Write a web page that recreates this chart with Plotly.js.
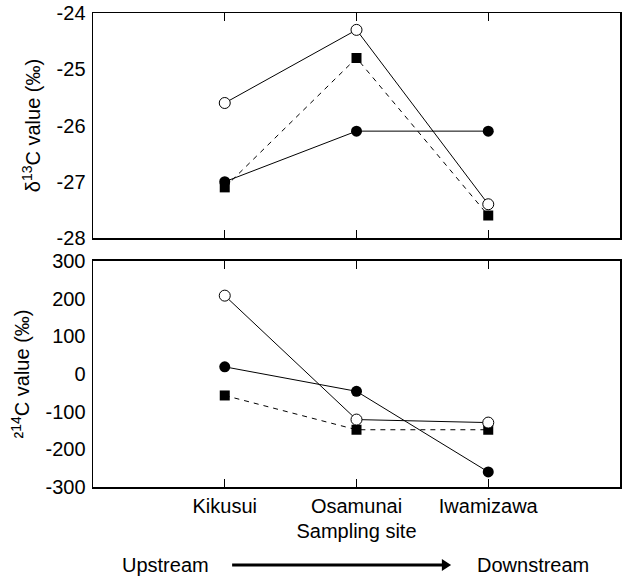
<!DOCTYPE html>
<html><head><meta charset="utf-8">
<script src="https://cdn.plot.ly/plotly-3.0.1.min.js"></script>
<style>body{margin:0;background:#fff}</style></head>
<body><div id="chart" style="width:622px;height:577px"></div>
<script>
const sites = ['Kikusui', 'Osamunai', 'Iwamizawa'];
const d13C_open = [-25.6, -24.3, -27.4];
const d13C_square = [-27.1, -24.8, -27.6];
const d13C_filled = [-27.0, -26.1, -26.1];
const D14C_open = [208, -121, -129];
const D14C_square = [-57, -148, -148];
const D14C_filled = [19, -46, -260];
const d13C_ticks = [-28, -27, -26, -25, -24];
const D14C_ticks = [-300, -200, -100, 0, 100, 200, 300];

const FONT = 'Liberation Sans, Arial, sans-serif';
const openM = {symbol: 'circle', size: 11, color: '#fff', line: {color: '#000', width: 1}};
const fillM = {symbol: 'circle', size: 11, color: '#000', line: {color: '#000', width: 0}};
const sqM = {symbol: 'square', size: 10, color: '#000', line: {color: '#000', width: 0}};
const solid = {color: '#000', width: 1};
const dashed = {color: '#000', width: 1, dash: '5px,5px'};

function tr(y, xa, ya, marker, line) {
  return {x: sites, y: y, xaxis: xa, yaxis: ya, mode: 'lines+markers', marker: marker, line: line,
          showlegend: false, hoverinfo: 'x+y', cliponaxis: false};
}
const data = [
  tr(d13C_filled, 'x', 'y', fillM, solid),
  tr(d13C_square, 'x', 'y', sqM, dashed),
  tr(d13C_open, 'x', 'y', openM, solid),
  tr(D14C_square, 'x2', 'y2', sqM, dashed),
  tr(D14C_filled, 'x2', 'y2', fillM, solid),
  tr(D14C_open, 'x2', 'y2', openM, solid)
];

const xBase = {type: 'category', categoryarray: sites, range: [-1, 3], showgrid: false, zeroline: false,
  showline: true, linecolor: '#000', linewidth: 1.5, mirror: 'ticks', ticks: 'inside', ticklen: 8,
  tickcolor: '#000', tickwidth: 1, tickfont: {family: FONT, size: 20, color: '#000'}};
const yBase = {showgrid: false, zeroline: false, showline: true, linecolor: '#000', linewidth: 1.5,
  mirror: true, ticks: '', tickfont: {family: FONT, size: 20, color: '#000'}, ticklabelstandoff: 2};
const yRight = {side: 'right', showgrid: false, zeroline: false, showline: false, ticks: 'inside',
  ticklen: 9, tickcolor: '#000', tickwidth: 1, showticklabels: false};

const layout = {
  width: 622, height: 577,
  margin: {l: 93, r: 2, t: 13, b: 90},
  paper_bgcolor: '#fff', plot_bgcolor: '#fff',
  font: {family: FONT, size: 20, color: '#000'},
  xaxis: Object.assign({}, xBase, {anchor: 'y', domain: [0, 1], showticklabels: false}),
  xaxis2: Object.assign({}, xBase, {anchor: 'y2', domain: [0, 1],
    title: {text: 'Sampling site', font: {family: FONT, size: 20}, standoff: 8}}),
  yaxis: Object.assign({}, yBase, {domain: [0.5253, 1], anchor: 'x', range: [-28, -24],
    tickvals: d13C_ticks, ticktext: d13C_ticks.map(String),
    title: {text: 'δ<sup>13</sup>C value (‰)', font: {family: FONT, size: 20}, standoff: 10}}),
  yaxis2: Object.assign({}, yBase, {domain: [0, 0.4768], anchor: 'x2', range: [-300, 300],
    tickvals: D14C_ticks, ticktext: D14C_ticks.map(String),
    title: {text: '²<sup>14</sup>C value (‰)', font: {family: FONT, size: 20}, standoff: 10}}),
  yaxis3: Object.assign({}, yRight, {overlaying: 'y', anchor: 'x', range: [-28, -24], tickvals: d13C_ticks}),
  yaxis4: Object.assign({}, yRight, {overlaying: 'y2', anchor: 'x2', range: [-300, 300], tickvals: D14C_ticks}),
  shapes: [
    {type: 'line', xref: 'paper', yref: 'paper', x0: 0.264, x1: 0.672, y0: -0.1646, y1: -0.1646,
     line: {color: '#000', width: 3}},
    {type: 'path', xref: 'paper', yref: 'paper', path: 'M 0.662 -0.152 L 0.6795 -0.1646 L 0.662 -0.1772 Z',
     fillcolor: '#000', line: {color: '#000', width: 0}}
  ],
  annotations: [
    {text: 'Upstream', xref: 'paper', yref: 'paper', x: 0.1373, y: -0.1646, showarrow: false,
     xanchor: 'center', yanchor: 'middle', font: {family: FONT, size: 20, color: '#000'}},
    {text: 'Downstream', xref: 'paper', yref: 'paper', x: 0.8340, y: -0.1646, showarrow: false,
     xanchor: 'center', yanchor: 'middle', font: {family: FONT, size: 20, color: '#000'}}
  ]
};
Plotly.newPlot('chart', data, layout, {displayModeBar: false, staticPlot: true});
</script></body></html>
